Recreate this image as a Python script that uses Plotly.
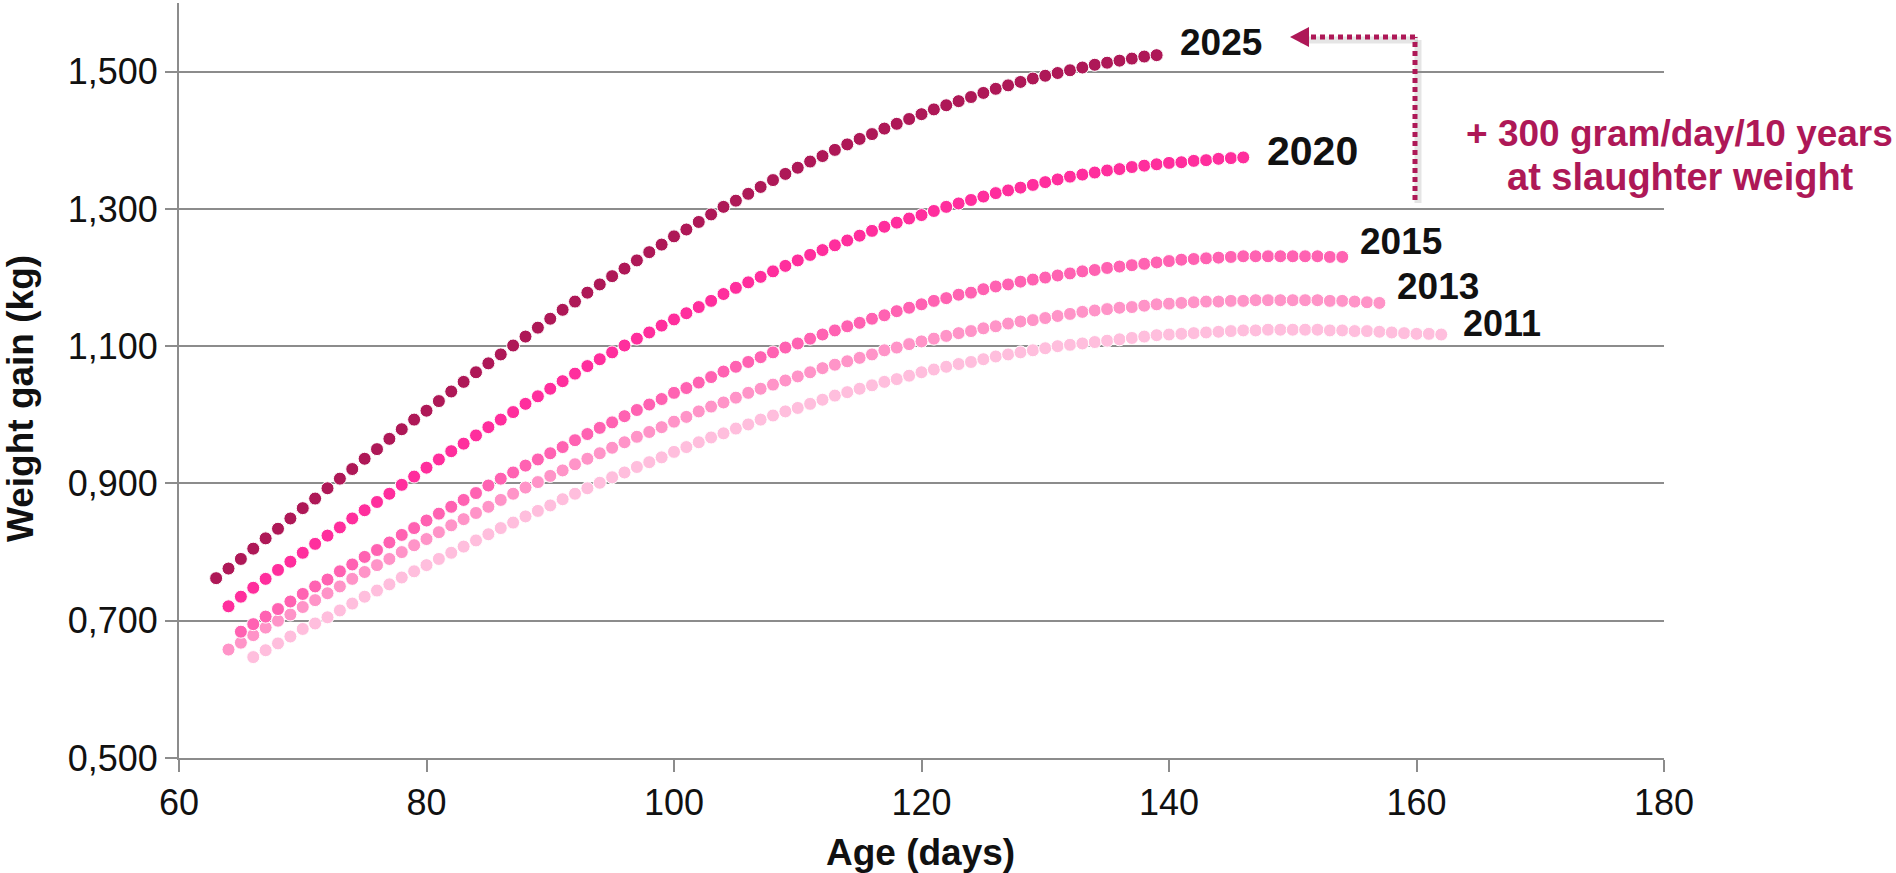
import plotly.graph_objects as go

# ---- data: daily weight gain (kg/day) by age, one series per year ----
years = ["2011", "2013", "2015", "2020", "2025"]
start_day = {"2011": 66, "2013": 64, "2015": 65, "2020": 64, "2025": 63}

gain_2025 = [
    0.762, 0.776, 0.790, 0.805, 0.820, 0.834, 0.849, 0.864, 0.878, 0.893,
    0.907, 0.921, 0.936, 0.950, 0.965, 0.979, 0.993, 1.006, 1.020, 1.034,
    1.048, 1.062, 1.075, 1.088, 1.101, 1.114, 1.127, 1.140, 1.153, 1.165,
    1.178, 1.190, 1.202, 1.213, 1.225, 1.237, 1.248, 1.260, 1.270, 1.281,
    1.292, 1.303, 1.312, 1.322, 1.332, 1.342, 1.351, 1.360, 1.369, 1.377,
    1.386, 1.394, 1.402, 1.409, 1.417, 1.424, 1.431, 1.438, 1.445, 1.451,
    1.457, 1.463, 1.469, 1.475, 1.480, 1.485, 1.490, 1.494, 1.498, 1.502,
    1.506, 1.510, 1.513, 1.516, 1.519, 1.522, 1.524,
]
gain_2020 = [
    0.721, 0.735, 0.748, 0.761, 0.774, 0.786, 0.799, 0.812, 0.824, 0.836,
    0.849, 0.861, 0.873, 0.885, 0.898, 0.910, 0.923, 0.935, 0.947, 0.958,
    0.970, 0.982, 0.993, 1.004, 1.016, 1.027, 1.038, 1.049, 1.060, 1.071,
    1.081, 1.091, 1.101, 1.111, 1.120, 1.130, 1.139, 1.148, 1.157, 1.166,
    1.176, 1.185, 1.193, 1.201, 1.209, 1.217, 1.225, 1.233, 1.240, 1.247,
    1.254, 1.261, 1.268, 1.274, 1.280, 1.286, 1.291, 1.297, 1.303, 1.308,
    1.313, 1.318, 1.323, 1.327, 1.331, 1.335, 1.339, 1.343, 1.347, 1.350,
    1.353, 1.356, 1.358, 1.361, 1.363, 1.365, 1.367, 1.368, 1.370, 1.371,
    1.373, 1.374, 1.375,
]
gain_2015 = [
    0.684, 0.695, 0.706, 0.717, 0.728, 0.739, 0.750, 0.760, 0.772, 0.782,
    0.793, 0.803, 0.814, 0.825, 0.835, 0.846, 0.856, 0.866, 0.876, 0.886,
    0.897, 0.907, 0.916, 0.926, 0.935, 0.944, 0.953, 0.963, 0.972, 0.981,
    0.989, 0.998, 1.007, 1.015, 1.023, 1.032, 1.039, 1.047, 1.055, 1.063,
    1.070, 1.077, 1.084, 1.091, 1.098, 1.104, 1.111, 1.117, 1.123, 1.129,
    1.134, 1.140, 1.145, 1.151, 1.156, 1.161, 1.166, 1.170, 1.175, 1.178,
    1.183, 1.187, 1.190, 1.194, 1.197, 1.200, 1.203, 1.206, 1.209, 1.211,
    1.214, 1.216, 1.218, 1.220, 1.222, 1.224, 1.226, 1.227, 1.228, 1.229,
    1.230, 1.231, 1.231, 1.231, 1.231, 1.231, 1.231, 1.231, 1.230, 1.230,
]
gain_2013 = [
    0.658, 0.668, 0.679, 0.690, 0.700, 0.709, 0.720, 0.730, 0.740, 0.750,
    0.761, 0.771, 0.781, 0.790, 0.800, 0.810, 0.819, 0.829, 0.839, 0.848,
    0.857, 0.866, 0.876, 0.885, 0.894, 0.902, 0.911, 0.919, 0.928, 0.936,
    0.944, 0.952, 0.960, 0.968, 0.975, 0.982, 0.990, 0.997, 1.005, 1.012,
    1.018, 1.025, 1.032, 1.038, 1.044, 1.050, 1.056, 1.062, 1.068, 1.073,
    1.078, 1.083, 1.088, 1.094, 1.098, 1.103, 1.107, 1.111, 1.115, 1.119,
    1.122, 1.126, 1.129, 1.133, 1.136, 1.138, 1.141, 1.144, 1.147, 1.150,
    1.152, 1.154, 1.156, 1.157, 1.159, 1.161, 1.162, 1.163, 1.164, 1.165,
    1.165, 1.166, 1.166, 1.167, 1.167, 1.167, 1.167, 1.167, 1.167, 1.166,
    1.166, 1.165, 1.164, 1.163,
]
gain_2011 = [
    0.647, 0.657, 0.667, 0.677, 0.688, 0.696, 0.705, 0.715, 0.725, 0.735,
    0.744, 0.753, 0.763, 0.772, 0.781, 0.790, 0.799, 0.808, 0.817, 0.826,
    0.835, 0.843, 0.852, 0.860, 0.868, 0.877, 0.885, 0.893, 0.901, 0.909,
    0.916, 0.924, 0.931, 0.938, 0.946, 0.953, 0.960, 0.967, 0.973, 0.980,
    0.986, 0.993, 0.999, 1.005, 1.010, 1.016, 1.022, 1.028, 1.033, 1.038,
    1.043, 1.048, 1.052, 1.057, 1.062, 1.066, 1.070, 1.074, 1.077, 1.081,
    1.085, 1.088, 1.091, 1.094, 1.097, 1.100, 1.102, 1.104, 1.106, 1.108,
    1.110, 1.112, 1.114, 1.116, 1.117, 1.118, 1.119, 1.120, 1.121, 1.122,
    1.123, 1.123, 1.124, 1.124, 1.124, 1.124, 1.124, 1.123, 1.123, 1.122,
    1.122, 1.121, 1.120, 1.119, 1.118, 1.118, 1.117,
]

x_ticks = [60, 80, 100, 120, 140, 160, 180]
y_ticks = [0.5, 0.7, 0.9, 1.1, 1.3, 1.5]
y_tick_text = ["0,500", "0,700", "0,900", "1,100", "1,300", "1,500"]

gains = {"2011": gain_2011, "2013": gain_2013, "2015": gain_2015,
         "2020": gain_2020, "2025": gain_2025}

# ---- styling ----
colors = {"2011": "#FFBEDD", "2013": "#FF94C8", "2015": "#FF62B2",
          "2020": "#FF2E9D", "2025": "#AE1857"}
# label placement relative to the last point of each series (pixels)
label_style = {
    "2025": dict(size=37, xshift=21, yshift=13),
    "2020": dict(size=41, xshift=22, yshift=6),
    "2015": dict(size=37, xshift=16, yshift=15),
    "2013": dict(size=37, xshift=16, yshift=16),
    "2011": dict(size=36, xshift=20, yshift=11),
}
FONT = "Liberation Sans, Arial, sans-serif"
ACCENT = "#AE1857"
GRID = "#8C8C8C"

W, H = 1896, 873
PL, PR, PT, PB = 179, 1664, 3, 758  # plot area in pixels


def fx(px):
    return (px - PL) / (PR - PL)


def fy(py):
    return (PB - py) / (PB - PT)


fig = go.Figure()
for yr in years:
    vals = gains[yr]
    days = list(range(start_day[yr], start_day[yr] + len(vals)))
    fig.add_trace(go.Scatter(
        x=days, y=vals, mode="markers", name=yr, showlegend=False,
        marker=dict(size=13, color=colors[yr],
                    line=dict(width=1, color="white")),
        hoverinfo="x+y",
    ))

annotations = []
for yr in years:
    vals = gains[yr]
    last_day = start_day[yr] + len(vals) - 1
    st = label_style[yr]
    annotations.append(dict(
        x=last_day, y=vals[-1], xref="x", yref="y",
        text=f"<b>{yr}</b>", showarrow=False,
        xanchor="left", yanchor="middle",
        xshift=st["xshift"], yshift=st["yshift"],
        font=dict(family=FONT, size=st["size"], color="#111111"),
    ))

# axis titles
annotations.append(dict(
    x=fx(920), y=fy(852), xref="paper", yref="paper",
    text="<b>Age (days)</b>", showarrow=False,
    xanchor="center", yanchor="middle",
    font=dict(family=FONT, size=37, color="#111111"),
))
annotations.append(dict(
    x=fx(20), y=fy(399), xref="paper", yref="paper",
    text="<b>Weight gain (kg)</b>", showarrow=False, textangle=-90,
    xanchor="center", yanchor="middle",
    font=dict(family=FONT, size=37, color="#111111"),
))
# growth note
annotations.append(dict(
    x=fx(1679), y=fy(133), xref="paper", yref="paper",
    text="<b>+ 300 gram/day/10 years</b>", showarrow=False,
    xanchor="center", yanchor="middle",
    font=dict(family=FONT, size=37, color=ACCENT),
))
annotations.append(dict(
    x=fx(1680), y=fy(177), xref="paper", yref="paper",
    text="<b>at slaughter weight</b>", showarrow=False,
    xanchor="center", yanchor="middle",
    font=dict(family=FONT, size=38, color=ACCENT),
))

# dotted elbow arrow from the note up to the top series, with a soft shadow
shadow_line = dict(color="rgba(0,0,0,0.10)", width=7)
arrow_line = dict(color=ACCENT, width=5, dash="5px,4px")
shapes = [
    dict(type="line", xref="paper", yref="paper", layer="below",
         x0=fx(1418), y0=fy(203), x1=fx(1418), y1=fy(40), line=shadow_line),
    dict(type="line", xref="paper", yref="paper", layer="below",
         x0=fx(1418), y0=fy(40), x1=fx(1300), y1=fy(40), line=shadow_line),
    dict(type="line", xref="paper", yref="paper",
         x0=fx(1415), y0=fy(200), x1=fx(1415), y1=fy(37), line=arrow_line),
    dict(type="line", xref="paper", yref="paper",
         x0=fx(1415), y0=fy(37), x1=fx(1306), y1=fy(37), line=arrow_line),
    dict(type="path", xref="paper", yref="paper",
         path=(f"M {fx(1290)} {fy(37)} L {fx(1309)} {fy(27)} "
               f"L {fx(1309)} {fy(47)} Z"),
         fillcolor=ACCENT, line=dict(width=0)),
]

fig.update_layout(
    width=W, height=H,
    margin=dict(l=PL, r=W - PR, t=PT, b=H - PB, autoexpand=False),
    paper_bgcolor="white", plot_bgcolor="white",
    font=dict(family=FONT, color="#111111"),
    annotations=annotations, shapes=shapes,
    xaxis=dict(
        range=[60, 180], tickmode="array", tickvals=x_ticks,
        showgrid=False, zeroline=False,
        showline=True, linecolor=GRID, linewidth=2,
        ticks="outside", ticklen=12, tickwidth=2, tickcolor=GRID,
        tickfont=dict(family=FONT, size=36, color="#111111"),
    ),
    yaxis=dict(
        range=[0.5, 1.6], tickmode="array", tickvals=y_ticks,
        ticktext=y_tick_text,
        showgrid=True, gridcolor=GRID, gridwidth=2, zeroline=False,
        showline=True, linecolor=GRID, linewidth=2,
        ticks="outside", ticklen=12, tickwidth=2, tickcolor=GRID,
        tickfont=dict(family=FONT, size=36, color="#111111"),
    ),
)

fig.write_html("out.html")
